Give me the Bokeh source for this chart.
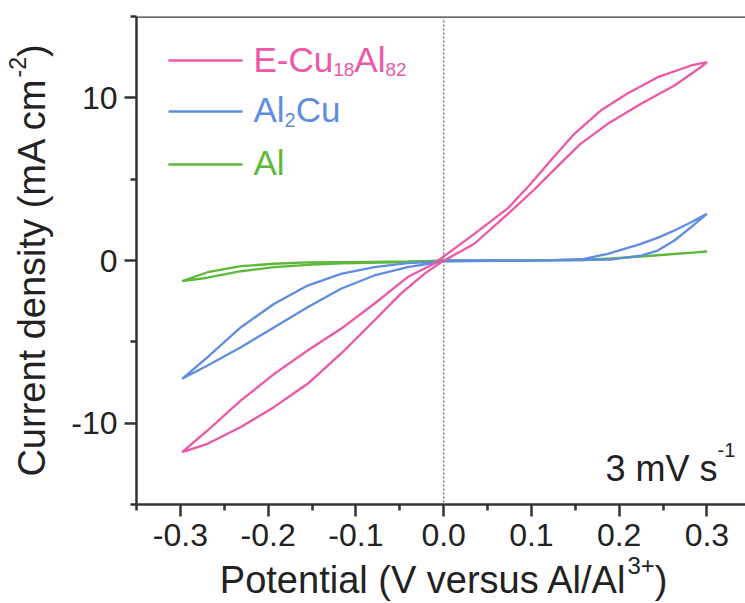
import math
from bokeh.plotting import figure
from bokeh.models import Range1d, FixedTicker, PrintfTickFormatter, Span, Label, Arrow
from bokeh.core.properties import value
from bokeh.embed import file_html
from bokeh.resources import INLINE

# ---------------- data ----------------
series_names = ["E-Cu18Al82", "Al2Cu", "Al"]

cu18al82_pot = [0.0, 0.004, 0.035, 0.073, 0.103, 0.13, 0.156, 0.187, 0.225, 0.263, 0.293, 0.30,
                0.282, 0.244, 0.209, 0.179, 0.149, 0.122, 0.099, 0.073, 0.035, 0.004,
                -0.011, -0.041, -0.079, -0.117, -0.155, -0.193, -0.231, -0.269, -0.298,
                -0.269, -0.231, -0.193, -0.155, -0.117, -0.079, -0.049, -0.022, 0.0]
cu18al82_cur = [0.0, 0.1, 1.03, 2.85, 4.35, 5.8, 7.17, 8.4, 9.63, 10.76, 11.88, 12.19,
                11.99, 11.27, 10.25, 9.22, 7.79, 6.15, 4.7, 3.2, 1.64, 0.41,
                -0.2, -1.02, -2.66, -4.2, -5.53, -6.97, -8.6, -10.45, -11.78,
                -11.27, -10.24, -9.0, -7.58, -5.73, -3.69, -2.05, -0.82, 0.0]

al2cu_pot = [0.0, 0.05, 0.10, 0.15, 0.19, 0.225, 0.244, 0.263, 0.282, 0.30,
             0.282, 0.263, 0.245, 0.225, 0.205, 0.187, 0.16, 0.12, 0.06, 0.0,
             -0.041, -0.079, -0.117, -0.155, -0.193, -0.231, -0.269, -0.298,
             -0.269, -0.231, -0.193, -0.155, -0.117, -0.079, -0.041, -0.005, 0.0]
al2cu_cur = [0.0, 0.0, 0.0, 0.02, 0.06, 0.3, 0.61, 1.23, 2.05, 2.87,
             2.35, 1.84, 1.42, 1.02, 0.7, 0.41, 0.1, 0.0, -0.02, -0.05,
             -0.16, -0.41, -0.82, -1.54, -2.66, -4.1, -5.94, -7.27,
             -6.45, -5.33, -4.1, -2.87, -1.74, -0.92, -0.41, -0.1, 0.0]

al_pot = [0.0, 0.05, 0.10, 0.16, 0.187, 0.225, 0.263, 0.30,
          0.28, 0.24, 0.20, 0.16, 0.10, 0.0,
          -0.041, -0.079, -0.117, -0.155, -0.193, -0.231, -0.269, -0.298,
          -0.269, -0.231, -0.193, -0.155, -0.117, -0.041, 0.0]
al_cur = [0.0, 0.0, 0.01, 0.03, 0.12, 0.25, 0.41, 0.55,
          0.47, 0.3, 0.15, 0.05, 0.0, -0.03,
          -0.06, -0.08, -0.1, -0.12, -0.2, -0.35, -0.72, -1.27,
          -1.06, -0.66, -0.41, -0.27, -0.18, -0.1, 0.0]

x_major = [-0.3, -0.2, -0.1, 0.0, 0.1, 0.2, 0.3]
x_minor = [-0.35, -0.25, -0.15, -0.05, 0.05, 0.15, 0.25]
y_major = [-10, 0, 10]
y_minor = [-15, -5, 5, 15]
x_lim = (-0.35, 0.344)
y_lim = (-15, 15)

colors = ["#EC58A6", "#5F8DE0", "#5DB93A"]
FONT = "Liberation Sans"
AXC = "#333333"
TXT = "#222222"

# ---------------- figure ----------------
FL, FT, FB = 136, 16, 99          # frame borders (left, top, bottom)
W_CANVAS, H_CANVAS = 745, 603

p = figure(width=W_CANVAS, height=H_CANVAS, output_backend="svg", toolbar_location=None,
           x_range=Range1d(*x_lim), y_range=Range1d(*y_lim),
           min_border_left=FL, min_border_right=0, min_border_top=FT, min_border_bottom=FB,
           background_fill_color="white", border_fill_color="white")
p.outline_line_color = None
p.grid.visible = False

p.xaxis.ticker = FixedTicker(ticks=x_major, minor_ticks=x_minor)
p.yaxis.ticker = FixedTicker(ticks=y_major, minor_ticks=y_minor)
p.xaxis.formatter = PrintfTickFormatter(format="%.1f")
p.yaxis.formatter = PrintfTickFormatter(format="%d")

for ax in (p.xaxis[0], p.yaxis[0]):
    ax.axis_line_color = AXC
    ax.axis_line_width = 2.5
    ax.major_tick_line_color = AXC
    ax.major_tick_line_width = 2.5
    ax.minor_tick_line_color = AXC
    ax.minor_tick_line_width = 2.5
    ax.major_tick_in = 0
    ax.major_tick_out = 12
    ax.minor_tick_in = 0
    ax.minor_tick_out = 6
    ax.major_label_text_font = FONT
    ax.major_label_text_font_size = "32px"
    ax.major_label_text_color = TXT
p.xaxis.major_label_standoff = 7
p.yaxis.major_label_standoff = 7

# top frame line and zero-potential guide
p.add_layout(Span(location=y_lim[1], dimension="width", line_color=AXC, line_width=2.5))
p.add_layout(Span(location=0, dimension="height", line_color="#808080",
                  line_width=1.6, line_dash="2 2"))

# ---------------- curves ----------------
p.line(al_pot, al_cur, line_color=colors[2], line_width=2.3)
p.line(al2cu_pot, al2cu_cur, line_color=colors[1], line_width=2.3)
p.line(cu18al82_pot, cu18al82_cur, line_color=colors[0], line_width=2.3)

# ---------------- rich text helpers (sub/superscripts) ----------------
CW = {"E": .667, "-": .333, "C": .722, "u": .556, "A": .667, "l": .222, "P": .667,
      "o": .556, "t": .278, "e": .556, "n": .556, "i": .222, "a": .556, "(": .333,
      ")": .333, "V": .667, "v": .5, "r": .333, "s": .5, "/": .278, "+": .584,
      "d": .556, "y": .5, "m": .833, "c": .5, " ": .278}
BASE_FIX = 14   # measured shift between requested and drawn alphabetic baseline

def text_w(s, size):
    return sum(CW.get(ch, .556) for ch in s) * size

def rich_width(pieces):
    return sum(text_w(t, s) for t, s, _ in pieces)

def rich_label(pieces, x0, y0, color):
    """Labels inside the frame, screen units relative to frame bottom-left."""
    x = x0
    for txt, size, dy in pieces:
        p.add_layout(Label(x=x, y=y0 + dy + BASE_FIX, x_units="screen", y_units="screen",
                           text=txt, text_font=FONT, text_font_size=f"{size}px",
                           text_color=color, text_align="left", text_baseline="alphabetic"))
        x += text_w(txt, size)

def rich_text(pieces, ax, ay, ox, oy, color, angle=0.0):
    """Text glyphs anchored at a frame point, drawn unclipped (overlay level).
    ox, oy: pixel offset of the baseline start (y downwards)."""
    ca, sa = math.cos(angle), math.sin(angle)
    adv = 0.0
    for txt, size, r in pieces:
        rr = r + BASE_FIX
        dx = ox + adv * ca - rr * sa
        dy = oy - adv * sa - rr * ca
        p.text(x=[ax], y=[ay], text=[txt], x_offset=dx, y_offset=dy, angle=angle,
               text_font=value(FONT), text_font_size=value(f"{size}px"), text_color=color,
               text_align="left", text_baseline="alphabetic", level="overlay")
        adv += text_w(txt, size)

# axis titles
xlab = [("Potential (V versus Al/Al", 38, 0), ("3+", 24, 14), (")", 38, 0)]
rich_text(xlab, 0.0, y_lim[0], -rich_width(xlab) / 2, 89, TXT)
ylab = [("Current density (mA cm", 38, 0), ("-2", 23, 14), (")", 38, 0)]
rich_text(ylab, x_lim[0], 0.0, -91, rich_width(ylab) / 2, TXT, angle=math.pi / 2)

# ---------------- legend (manual, for subscripts) ----------------
legend_pieces = [
    [("E-Cu", 35, 0), ("18", 19, -10), ("Al", 35, 0), ("82", 19, -10)],
    [("Al", 35, 0), ("2", 20, -10), ("Cu", 35, 0)],
    [("Al", 35, 0)],
]
line_y = [444, 393, 340]
base_y = [431, 381, 328]
for i in range(3):
    p.add_layout(Arrow(end=None, x_start=32, y_start=line_y[i], x_end=106, y_end=line_y[i],
                       start_units="screen", end_units="screen",
                       line_color=colors[i], line_width=2.5))
    rich_label(legend_pieces[i], 117, base_y[i], colors[i])

# scan-rate note
rich_label([("3 mV s", 36, 0), ("-1", 20, 19)], 469, 22, TXT)

open("out.html", "w").write(file_html(p, INLINE))
